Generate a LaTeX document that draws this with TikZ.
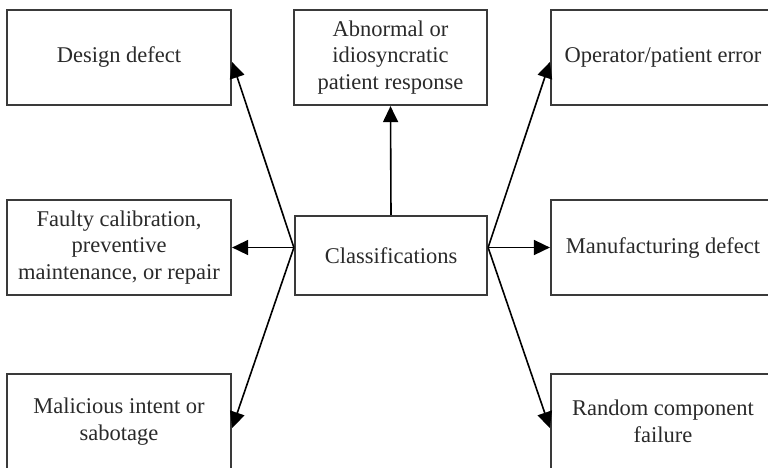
\documentclass[tikz,border=0pt]{standalone}
\usepackage{fontspec}
\setmainfont{Liberation Serif}
\usetikzlibrary{arrows.meta}
\definecolor{boxline}{HTML}{3A3A3A}
\definecolor{ink}{HTML}{2A2A2A}
\begin{document}
\begin{tikzpicture}[x=1pt,y=-1pt,
  box/.style={draw=boxline, line width=2.2pt, inner sep=0pt, align=center,
    minimum width=224pt, minimum height=95pt, text=ink,
    font=\fontsize{22.5}{26.5}\selectfont},
  arr/.style={draw=black, line width=1.6pt,
    -{Triangle[length=16pt,width=15pt]}}]
\useasboundingbox (0,0) rectangle (768,467);
\clip (0,0) rectangle (768,467);
\fill[white] (0,0) rectangle (768,467);

% top row
\node[box] (dd) at (119,57.5) {Design defect};
\node[box, minimum width=193pt] (ab) at (390.5,57.5)
  {Abnormal or\\idiosyncratic\\patient response};
\node[box] (op) at (663,57.5) {Operator/patient error};

% middle row
\node[box] (fc) at (119,247.5)
  {Faulty calibration,\\preventive\\maintenance, or repair};
\node[box, minimum width=192pt, minimum height=79pt] (cl) at (391,255.5)
  {Classifications};
\node[box] (mf) at (663,247.5) {Manufacturing defect};

% bottom row
\node[box] (mi) at (119,421.5) {Malicious intent or\\sabotage};
\node[box] (rc) at (663,421.5) {Random component\\failure};

% common starting points on the sides of the central box
\coordinate (cw) at (cl.west |- fc.east);
\coordinate (ce) at (cl.east |- mf.west);

% connectors
\draw[arr] (cw) -- (fc.east);
\draw[arr] (ce) -- (mf.west);
\draw[arr] (cl.north) -- (ab.south);
\draw[arr] (cw) -- ([yshift=-4.5pt]dd.east);
\draw[arr] (cw) -- ([yshift=-6.5pt]mi.east);
\draw[arr] (ce) -- ([yshift=-4.5pt]op.west);
\draw[arr] (ce) -- ([yshift=-6.5pt]rc.west);
\end{tikzpicture}
\end{document}
